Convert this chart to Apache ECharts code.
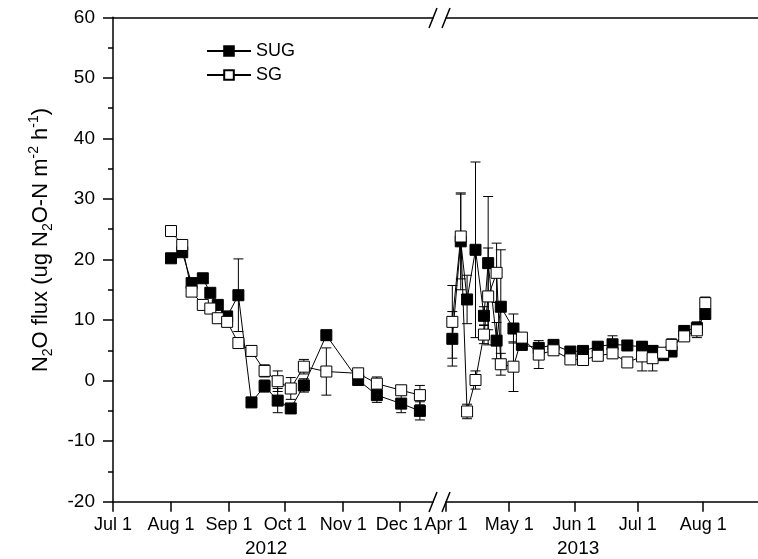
<!DOCTYPE html>
<html>
<head>
<meta charset="utf-8">
<script src="https://cdn.jsdelivr.net/npm/echarts@6/dist/echarts.min.js"></script>
<style>
html,body{margin:0;padding:0;background:#fff;}
#main{width:758px;height:559px;}
</style>
</head>
<body>
<div id="main"></div>
<script>
//2012 sampling
var dates2012 = ['2012-08-01','2012-08-07','2012-08-12','2012-08-18','2012-08-22','2012-08-26','2012-08-31','2012-09-06','2012-09-13',
	'2012-09-20','2012-09-27','2012-10-04','2012-10-11','2012-10-23','2012-11-09','2012-11-19','2012-12-02','2012-12-12'];
var sug2012 = [20.2,21.2,16.1,16.9,14.5,12.5,10.6,14.1,-3.6,-0.9,-3.3,-4.6,-0.8,7.5,0.1,-2.4,-3.8,-5.0];
var sugErr2012 = [0.6,0.6,0.5,0.5,0.5,0.5,0.5,6.0,0.6,1.0,2.0,0.8,1.1,0.8,0.5,1.2,1.5,1.5];
var sg2012 = [24.7,22.4,14.7,12.5,11.9,10.3,9.7,6.2,4.9,1.6,-0.1,-1.3,2.3,1.5,1.2,-0.5,-1.6,-2.4];
var sgErr2012 = [0.5,0.6,0.5,0.5,0.5,0.5,0.5,0.6,0.8,1.0,1.7,1.8,1.2,3.9,0.6,1.1,0.8,1.6];

//2013 sampling
var dates2013 = ['2013-04-04','2013-04-08','2013-04-11','2013-04-15','2013-04-19','2013-04-21','2013-04-25','2013-04-27','2013-05-03',
	'2013-05-07','2013-05-15','2013-05-22','2013-05-30','2013-06-05','2013-06-12','2013-06-19','2013-06-26','2013-07-03',
	'2013-07-08','2013-07-13','2013-07-17','2013-07-23','2013-07-29','2013-08-02'];
var sug2013 = [6.9,23.0,13.4,21.6,10.7,19.4,6.6,12.2,8.6,5.9,5.4,5.9,4.8,4.9,5.6,6.0,5.8,5.6,4.9,4.2,4.8,8.2,8.7,11.0];
var sugErr2013 = [4.5,8.0,4.0,14.5,1.5,11.0,3.0,9.4,2.4,0.8,0.8,0.6,0.6,0.5,0.6,1.4,0.5,0.6,0.6,0.5,0.6,0.8,1.0,0.8];
var sg2013 = [9.7,23.8,-5.1,0.1,7.6,13.9,17.8,2.7,2.3,7.1,4.3,5.0,3.5,3.4,4.1,4.5,3.0,4.0,3.7,4.6,5.9,7.3,8.3,12.8];
var sgErr2013 = [6.0,7.0,1.2,1.5,1.5,8.0,4.9,1.8,4.1,0.6,2.3,0.8,0.6,0.6,0.5,0.8,0.6,2.4,2.1,0.6,1.0,0.8,1.2,1.0];

//axis ticks
var ticks2012 = ['2012-07-01','2012-08-01','2012-09-01','2012-10-01','2012-11-01','2012-12-01'];
var tickLabels2012 = ['Jul 1','Aug 1','Sep 1','Oct 1','Nov 1','Dec 1'];
var ticks2013 = ['2013-04-01','2013-05-01','2013-06-01','2013-07-01','2013-08-01'];
var tickLabels2013 = ['Apr 1','May 1','Jun 1','Jul 1','Aug 1'];
var range2012 = ['2012-07-01','2012-12-19'];
var range2013 = ['2013-04-01','2013-08-27'];
var yearLabels = ['2012','2013'];

var FONT = 'Liberation Sans, Arial, sans-serif';

//日期转天数
function toDay(s, base){
	var a = s.split('-'), b = base.split('-');
	return (Date.UTC(+a[0],a[1]-1,+a[2]) - Date.UTC(+b[0],b[1]-1,+b[2]))/86400000;
}
function pts(dates, vals, base){
	return dates.map(function(d,i){return [toDay(d,base), vals[i]];});
}
function errPts(dates, vals, errs, base){
	return dates.map(function(d,i){return [toDay(d,base), vals[i], errs[i]];});
}
function tickVals(ticks, base){
	return ticks.map(function(t){return toDay(t,base);});
}
function labelFmt(ticks, labels, base){
	return function(v){
		var i = tickVals(ticks,base).indexOf(Math.round(v));
		return i < 0 ? '' : labels[i];
	};
}

//误差线
function errorBar(params, api){
	var x = api.value(0), y = api.value(1), e = api.value(2);
	var hi = api.coord([x, y + e]);
	var lo = api.coord([x, y - e]);
	var st = {stroke:'#000', lineWidth:1};
	return {type:'group', children:[
		{type:'line', shape:{x1:hi[0],y1:hi[1],x2:lo[0],y2:lo[1]}, style:st},
		{type:'line', shape:{x1:hi[0]-5,y1:hi[1],x2:hi[0]+5,y2:hi[1]}, style:st},
		{type:'line', shape:{x1:lo[0]-5,y1:lo[1],x2:lo[0]+5,y2:lo[1]}, style:st}
	]};
}

function xAxisDef(grid, ticks, labels, range){
	var base = range[0];
	return {
		type:'value', gridIndex:grid, position:'bottom',
		min:0, max:toDay(range[1],base),
		axisLine:{show:true, onZero:false, lineStyle:{color:'#000', width:1.5}},
		axisTick:{show:true, inside:false, length:10, customValues:tickVals(ticks,base), lineStyle:{color:'#000', width:1.5}},
		axisLabel:{show:true, margin:14, customValues:tickVals(ticks,base), formatter:labelFmt(ticks,labels,base),
			color:'#000', fontSize:18, fontFamily:FONT},
		splitLine:{show:false}
	};
}
function topAxisDef(grid, range){
	return {
		type:'value', gridIndex:grid, position:'top', min:0, max:toDay(range[1],range[0]),
		axisLine:{show:true, onZero:false, lineStyle:{color:'#000', width:1.5}},
		axisTick:{show:false}, axisLabel:{show:false}, splitLine:{show:false}
	};
}
function yAxisDef(grid, visible){
	return {
		type:'value', gridIndex:grid, min:-20, max:60, interval:10, show:visible,
		name:'{t|N}{sub|2}{t|O flux (ug N}{sub|2}{t|O-N m}{sup|-2}{t| h}{sup|-1}{t|)}',
		nameLocation:'middle', nameGap:58, nameRotate:90,
		nameTextStyle:{padding:[0,0,0,39], rich:{
			t:{fontSize:22, fontFamily:FONT, color:'#000', lineHeight:28},
			sub:{fontSize:14, fontFamily:FONT, color:'#000', lineHeight:28, verticalAlign:'bottom', padding:[10,0,0,0]},
			sup:{fontSize:14, fontFamily:FONT, color:'#000', lineHeight:28, verticalAlign:'top', padding:[0,0,10,0]}
		}},
		axisLine:{show:true, onZero:false, lineStyle:{color:'#000', width:1.5}},
		axisTick:{show:true, inside:false, length:10, lineStyle:{color:'#000', width:1.5}},
		minorTick:{show:true, splitNumber:2, length:5, lineStyle:{color:'#000', width:1.5}},
		axisLabel:{margin:18, color:'#000', fontSize:19, fontFamily:FONT},
		splitLine:{show:false}
	};
}
function lineSeries(name, data, xi, filled, z){
	return {
		name:name, type:'line', xAxisIndex:xi, yAxisIndex:xi, data:data, z:z,
		symbol:'rect', symbolSize:11, showSymbol:true, animation:false,
		lineStyle:{color:'#000', width:1},
		itemStyle:{color: filled ? '#000' : '#fff', borderColor:'#000', borderWidth:1}
	};
}
function errSeries(data, xi){
	return {type:'custom', xAxisIndex:xi, yAxisIndex:xi, renderItem:errorBar, data:data, z:1, animation:false,
		encode:{x:0, y:1}};
}

var myChart = echarts.init(document.getElementById('main'));
var option = {
	backgroundColor:'#fff',
	animation:false,
	grid:[
		{left:113, right:325, top:17.3, bottom:57.3},
		{left:446, right:0, top:17.3, bottom:57.3}
	],
	xAxis:[
		xAxisDef(0, ticks2012, tickLabels2012, range2012),
		xAxisDef(1, ticks2013, tickLabels2013, range2013),
		topAxisDef(0, range2012),
		topAxisDef(1, range2013)
	],
	yAxis:[yAxisDef(0,true), yAxisDef(1,false)],
	legend:{
		data:['SUG','SG'], orient:'vertical', left:201, top:37, itemWidth:44, itemHeight:12, itemGap:6,
		textStyle:{color:'#000', fontSize:18, fontFamily:FONT}, selectedMode:false
	},
	series:[
		errSeries(errPts(dates2012,sug2012,sugErr2012,range2012[0]),0),
		errSeries(errPts(dates2012,sg2012,sgErr2012,range2012[0]),0),
		errSeries(errPts(dates2013,sug2013,sugErr2013,range2013[0]),1),
		errSeries(errPts(dates2013,sg2013,sgErr2013,range2013[0]),1),
		lineSeries('SUG', pts(dates2012,sug2012,range2012[0]), 0, true, 2),
		lineSeries('SUG', pts(dates2013,sug2013,range2013[0]), 1, true, 2),
		lineSeries('SG', pts(dates2012,sg2012,range2012[0]), 0, false, 3),
		lineSeries('SG', pts(dates2013,sg2013,range2013[0]), 1, false, 3)
	],
	graphic:[
		//断轴标记
		{type:'line', shape:{x1:429,y1:28,x2:437,y2:8}, style:{stroke:'#000', lineWidth:1.5}},
		{type:'line', shape:{x1:442,y1:28,x2:450,y2:8}, style:{stroke:'#000', lineWidth:1.5}},
		{type:'line', shape:{x1:429,y1:512,x2:437,y2:492}, style:{stroke:'#000', lineWidth:1.5}},
		{type:'line', shape:{x1:442,y1:512,x2:450,y2:492}, style:{stroke:'#000', lineWidth:1.5}},
		{type:'text', left:245, top:539, style:{text:yearLabels[0], fill:'#000', font:'19px ' + FONT}},
		{type:'text', left:557, top:539, style:{text:yearLabels[1], fill:'#000', font:'19px ' + FONT}}
	]
};
myChart.setOption(option);
</script>
</body>
</html>
